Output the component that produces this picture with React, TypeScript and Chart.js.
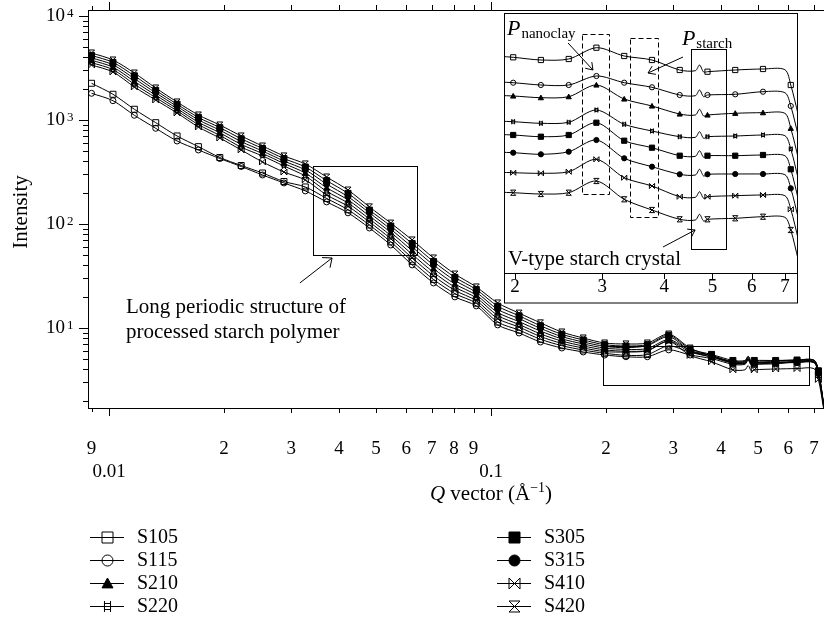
import React, { useEffect, useRef } from "react";
import { Chart, registerables } from "chart.js";

Chart.register(...registerables);

const SERIF = '"Liberation Serif", "Times New Roman", Times, serif';

// Q grid (Å^-1): marker positions plus a few line-only points
const Q = [0.009, 0.01024, 0.01165, 0.01325, 0.01507, 0.01714, 0.0195, 0.02218, 0.02522, 0.0287,
  0.03264, 0.03713, 0.04223, 0.04804, 0.05464, 0.06216, 0.0707, 0.08042, 0.0915, 0.1041,
  0.1184, 0.1347, 0.1532, 0.1743, 0.1983, 0.2255, 0.2566, 0.2918, 0.332, 0.3777,
  0.4296, 0.462, 0.471, 0.48, 0.4887, 0.5559, 0.6324, 0.7, 0.7194, 0.745];
const LINE_ONLY_Q = [0.462, 0.471, 0.48, 0.7, 0.745];

const SERIES = ["S105", "S115", "S210", "S220", "S305", "S315", "S410", "S420"];
const MARKERS = ["square", "circle", "triangle", "hash", "fsquare", "fcircle", "bowtie", "hourglass"];

// main plot intensities
const S105 = [2254, 1767, 1268, 942, 702, 554, 436, 365, 309, 256, 227, 176, 137, 97.8, 67.3, 43.7, 29.3, 21.4, 17.3, 11.4, 9.54, 7.79, 6.76, 6.14, 5.71, 5.46, 5.55, 6.73, 5.84, 5.46, 4.61, 4.56, 5.01, 4.46, 4.49, 4.61, 4.69, 4.69, 3.58, 1.65];
const S115 = [1806, 1533, 1110, 832, 628, 515, 426, 357, 296, 248, 208, 163, 128, 91.5, 62.8, 40.4, 27.1, 19.9, 16.3, 10.7, 8.95, 7.33, 6.42, 5.88, 5.5, 5.29, 5.29, 6.16, 5.5, 5.08, 4.47, 4.47, 4.91, 4.37, 4.47, 4.52, 4.72, 4.72, 3.71, 1.7];
const S210 = [3760, 3219, 2351, 1732, 1287, 952, 753, 583, 476, 382, 309, 223, 170.5, 119.4, 83.0, 55.4, 37.2, 26.5, 20.7, 14.1, 11.5, 9.34, 7.86, 7.02, 6.41, 6.23, 6.34, 7.72, 6.09, 5.42, 4.73, 4.69, 5.2, 4.63, 4.65, 4.78, 4.84, 4.84, 3.72, 1.7];
const S220 = [3560, 3052, 2209, 1642, 1226, 903, 711, 548, 451, 361, 289, 206, 159, 111.7, 77.4, 51.1, 34.3, 24.7, 19.5, 13.2, 10.8, 8.78, 7.48, 6.71, 6.16, 5.98, 6.09, 7.5, 5.89, 5.26, 4.78, 4.78, 5.26, 4.68, 4.78, 4.84, 4.91, 4.91, 3.89, 1.7];
const S305 = [4180, 3580, 2661, 1925, 1419, 1059, 845, 660, 532, 426, 353, 261, 197, 136, 95.4, 64.8, 43.5, 30.7, 23.4, 16.2, 13.1, 10.5, 8.7, 7.67, 6.91, 6.71, 6.91, 8.51, 6.28, 5.57, 4.87, 4.87, 5.36, 4.76, 4.87, 4.87, 4.92, 4.92, 3.87, 1.65];
const S315 = [3960, 3395, 2501, 1826, 1351, 1004, 798, 620, 503, 403, 331, 242, 183, 128, 88.9, 60.0, 40.3, 28.6, 22.0, 15.1, 12.3, 9.91, 8.27, 7.33, 6.66, 6.47, 6.77, 8.25, 6.05, 5.25, 4.62, 4.62, 5.08, 4.52, 4.62, 4.64, 4.64, 4.64, 3.64, 1.6];
const S410 = [3380, 2894, 2077, 1557, 1168, 856, 671, 515, 395, 316, 265, 190, 148, 104.5, 72.2, 47.2, 31.7, 23.0, 18.3, 12.3, 10.2, 8.27, 7.11, 6.42, 5.93, 5.87, 6.04, 7.43, 5.45, 4.73, 3.96, 3.96, 4.35, 3.87, 3.96, 4.03, 4.07, 4.07, 3.2, 1.55];
const S420 = [4410, 3775, 2830, 2031, 1490, 1117, 895, 702, 562, 451, 378, 283, 212, 146, 102, 70.2, 47.1, 33.0, 24.8, 17.4, 13.9, 11.2, 9.15, 8.01, 7.17, 7.02, 7.17, 8.74, 6.41, 5.36, 4.58, 4.58, 5.03, 4.48, 4.58, 4.65, 4.78, 4.78, 3.83, 1.6];
const MAIN_VALUES = [S105, S115, S210, S220, S305, S315, S410, S420];

// inset: vertically offset curves (arbitrary units) for Q >= 0.1743
const INSET_Q = Q.slice(23);
const IN_S105 = [217.7, 215.7, 213.0, 214.0, 225.3, 217.0, 213.0, 203.0, 202.3, 208.0, 201.0, 201.3, 203.0, 204.0, 203.3, 188.0, 158.0];
const IN_S115 = [191.7, 190.3, 188.0, 188.0, 197.0, 190.3, 185.7, 178.0, 177.3, 183.0, 176.3, 178.0, 178.7, 181.3, 180.3, 167.0, 137.0];
const IN_S210 = [178.0, 177.0, 175.3, 176.3, 188.0, 174.0, 167.0, 159.0, 158.0, 163.7, 157.0, 158.0, 159.7, 160.3, 159.7, 144.7, 114.7];
const IN_S220 = [152.3, 151.3, 149.7, 150.7, 163.0, 148.7, 142.0, 136.3, 135.7, 141.3, 134.7, 136.3, 137.0, 138.0, 137.3, 124.0, 94.0];
const IN_S305 = [139.0, 138.0, 136.3, 138.0, 150.3, 132.3, 125.3, 117.3, 116.7, 122.3, 115.7, 117.3, 117.3, 118.0, 117.3, 103.7, 73.7];
const IN_S315 = [121.3, 120.3, 118.7, 121.3, 133.0, 114.7, 106.3, 98.7, 98.0, 103.7, 97.0, 98.7, 99.0, 99.0, 98.3, 84.7, 54.7];
const IN_S410 = [101.3, 100.3, 99.7, 101.3, 113.7, 95.3, 87.0, 76.3, 75.7, 81.3, 74.7, 76.3, 77.3, 78.0, 77.3, 63.7, 33.7];
const IN_S420 = [81.3, 80.3, 79.0, 80.3, 92.0, 73.7, 63.0, 53.7, 53.0, 58.7, 52.0, 53.7, 54.7, 56.3, 55.7, 43.0, 13.0];
const INSET_VALUES = [IN_S105, IN_S115, IN_S210, IN_S220, IN_S305, IN_S315, IN_S410, IN_S420];

const X_TICKS = [0.009, 0.01, 0.02, 0.03, 0.04, 0.05, 0.06, 0.07, 0.08, 0.09, 0.1, 0.2, 0.3, 0.4, 0.5, 0.6, 0.7];
const X_LONG_TICKS = [0.01, 0.1];
const X_SHORT_TICKS = [0.009];
const Y_EXPONENTS = [1, 2, 3, 4];
const INSET_TICKS = [0.2, 0.3, 0.4, 0.5, 0.6, 0.7];

const X_MIN = 0.00881, X_MAX = 0.744, Y_MIN = 1.7, Y_MAX = 11420;
const IX_MIN = 0.1909, IX_MAX = 0.7405, IY_MIN = 0, IY_MAX = 259;

function drawMarker(ctx: CanvasRenderingContext2D, kind: string, x: number, y: number, s: number) {
  ctx.save();
  ctx.strokeStyle = "#000";
  ctx.fillStyle = "#000";
  ctx.lineWidth = 1;
  ctx.beginPath();
  switch (kind) {
    case "square":
      ctx.rect(x - s, y - s, 2 * s, 2 * s); ctx.stroke(); break;
    case "circle":
      ctx.arc(x, y, s, 0, Math.PI * 2); ctx.stroke(); break;
    case "triangle":
      ctx.moveTo(x, y - s); ctx.lineTo(x + s, y + s * 0.8); ctx.lineTo(x - s, y + s * 0.8); ctx.closePath();
      ctx.fill(); ctx.stroke(); break;
    case "hash": {
      const h = s * 0.55;
      ctx.rect(x - h, y - h, 2 * h, 2 * h);
      ctx.moveTo(x - h, y - s); ctx.lineTo(x - h, y + s);
      ctx.moveTo(x + h, y - s); ctx.lineTo(x + h, y + s);
      ctx.stroke(); break;
    }
    case "fsquare":
      ctx.rect(x - s, y - s, 2 * s, 2 * s); ctx.fill(); ctx.stroke(); break;
    case "fcircle":
      ctx.arc(x, y, s, 0, Math.PI * 2); ctx.fill(); ctx.stroke(); break;
    case "bowtie":
      ctx.moveTo(x - s, y - s); ctx.lineTo(x - s, y + s); ctx.lineTo(x + s, y - s); ctx.lineTo(x + s, y + s); ctx.closePath();
      ctx.stroke(); break;
    case "hourglass":
      ctx.moveTo(x - s, y - s); ctx.lineTo(x + s, y - s); ctx.lineTo(x - s, y + s); ctx.lineTo(x + s, y + s); ctx.closePath();
      ctx.stroke(); break;
  }
  ctx.restore();
}

function line(ctx: CanvasRenderingContext2D, x1: number, y1: number, x2: number, y2: number) {
  ctx.beginPath(); ctx.moveTo(x1, y1); ctx.lineTo(x2, y2); ctx.stroke();
}

function arrow(ctx: CanvasRenderingContext2D, x1: number, y1: number, x2: number, y2: number, len = 10, ang = 0.62) {
  line(ctx, x1, y1, x2, y2);
  const t = Math.atan2(y2 - y1, x2 - x1);
  ctx.beginPath();
  ctx.moveTo(x2 - len * Math.cos(t - ang), y2 - len * Math.sin(t - ang));
  ctx.lineTo(x2, y2);
  ctx.lineTo(x2 - len * Math.cos(t + ang), y2 - len * Math.sin(t + ang));
  ctx.stroke();
}

const px = (v: number) => Math.round(v) + 0.5;

function markerPlugin(size: number) {
  return {
    id: "markers",
    afterDatasetsDraw(chart: any) {
      const { ctx, chartArea: a } = chart;
      ctx.save();
      ctx.beginPath();
      ctx.rect(a.left - 1, a.top - 1, a.right - a.left + 2, a.bottom - a.top + 2);
      ctx.clip();
      chart.data.datasets.forEach((ds: any, i: number) => {
        const meta = chart.getDatasetMeta(i);
        meta.data.forEach((pt: any, j: number) => {
          const q = ds.data[j].x;
          if (LINE_ONLY_Q.includes(q)) return;
          if (pt.x < a.left - 2 || pt.x > a.right + 2 || pt.y < a.top - 2 || pt.y > a.bottom + 2) return;
          drawMarker(ctx, MARKERS[i], pt.x, pt.y, size);
        });
      });
      ctx.restore();
    },
  };
}

const whiteBg = {
  id: "whiteBg",
  beforeDraw(chart: any) {
    const { ctx, width, height } = chart;
    ctx.save(); ctx.fillStyle = "#fff"; ctx.fillRect(0, 0, width, height); ctx.restore();
  },
};

const mainDeco = {
  id: "mainDeco",
  afterDraw(chart: any) {
    const { ctx, chartArea: a } = chart;
    const xs = chart.scales.x, ys = chart.scales.y;
    ctx.save();
    ctx.strokeStyle = "#000";
    ctx.fillStyle = "#000";
    ctx.lineWidth = 1;
    // top frame line
    line(ctx, a.left, px(a.top), a.right, px(a.top));
    // x ticks (bottom + top)
    X_TICKS.forEach((v) => {
      const x = px(xs.getPixelForValue(v));
      const len = X_LONG_TICKS.includes(v) ? 8 : X_SHORT_TICKS.includes(v) ? 4 : 5;
      line(ctx, x, a.bottom, x, a.bottom + len);
      line(ctx, x, a.top, x, a.top - len);
    });
    // y ticks
    for (let e = 0; e <= 4; e++) {
      for (let m = 1; m <= 9; m++) {
        const v = m * Math.pow(10, e);
        if (v < Y_MIN || v > Y_MAX) continue;
        const y = px(ys.getPixelForValue(v));
        line(ctx, a.left - (m === 1 ? 9 : 5), y, a.left, y);
      }
    }
    // y labels 10^n
    Y_EXPONENTS.forEach((e) => {
      const y = ys.getPixelForValue(Math.pow(10, e));
      ctx.font = `19px ${SERIF}`;
      ctx.textAlign = "right";
      ctx.textBaseline = "middle";
      ctx.fillText("10", 65, y);
      ctx.font = `13px ${SERIF}`;
      ctx.textAlign = "left";
      ctx.textBaseline = "alphabetic";
      ctx.fillText(String(e), 67, y + 1);
    });
    // y title
    ctx.save();
    ctx.translate(21, 212);
    ctx.rotate(-Math.PI / 2);
    ctx.font = `21px ${SERIF}`;
    ctx.textAlign = "center";
    ctx.textBaseline = "middle";
    ctx.fillText("Intensity", 0, 0);
    ctx.restore();
    // x title: Q vector (Å^-1)
    {
      const parts = [
        { t: "Q", f: `italic 21px ${SERIF}`, dy: 0 },
        { t: " vector (Å", f: `21px ${SERIF}`, dy: 0 },
        { t: "−1", f: `14px ${SERIF}`, dy: -8 },
        { t: ")", f: `21px ${SERIF}`, dy: 0 },
      ];
      let total = 0;
      parts.forEach((p) => { ctx.font = p.f; total += ctx.measureText(p.t).width; });
      let x = 491 - total / 2;
      const base = 500;
      ctx.textAlign = "left";
      ctx.textBaseline = "alphabetic";
      parts.forEach((p) => { ctx.font = p.f; ctx.fillText(p.t, x, base + p.dy); x += ctx.measureText(p.t).width; });
    }
    // annotation: long periodic structure box
    const X = (v: number) => xs.getPixelForValue(v);
    const Y = (v: number) => ys.getPixelForValue(v);
    ctx.strokeRect(px(X(0.0342)), px(Y(361)), Math.round(X(0.064) - X(0.0342)), Math.round(Y(50.4) - Y(361)));
    ctx.strokeRect(px(X(0.1964)), px(Y(6.71)), Math.round(X(0.68) - X(0.1964)), Math.round(Y(2.83) - Y(6.71)));
    arrow(ctx, X(0.0316), Y(27.1), X(0.03836), Y(47.1), 10, 0.7);
    ctx.font = `21px ${SERIF}`;
    ctx.textAlign = "left";
    ctx.textBaseline = "alphabetic";
    ctx.fillText("Long periodic structure of", X(0.01108), Y(13.9));
    ctx.fillText("processed starch polymer", X(0.01108), Y(8.01));
    // legend (two columns)
    SERIES.forEach((name, i) => {
      const col = Math.floor(i / 4), row = i % 4;
      const lx = col === 0 ? 90 : 497;
      const y = 537 + row * 23;
      line(ctx, lx, px(y), lx + 34, px(y));
      drawMarker(ctx, MARKERS[i], lx + 17.5, y + 0.5, 5.5);
      ctx.font = `20px ${SERIF}`;
      ctx.textBaseline = "middle";
      ctx.fillText(name, lx + 47, y + 1);
    });
    ctx.restore();
  },
};

const insetDeco = {
  id: "insetDeco",
  afterDraw(chart: any) {
    const { ctx, chartArea: a, height } = chart;
    const xs = chart.scales.x, ys = chart.scales.y;
    const X = (v: number) => xs.getPixelForValue(v);
    const Y = (v: number) => ys.getPixelForValue(v);
    ctx.save();
    ctx.strokeStyle = "#000";
    ctx.fillStyle = "#000";
    ctx.lineWidth = 1;
    ctx.strokeRect(0.5, 0.5, a.right, height - 1.5);
    INSET_TICKS.forEach((v) => {
      const x = px(X(v));
      line(ctx, x, a.bottom, x, a.bottom + 6);
    });
    // dashed boxes
    ctx.setLineDash([5, 3]);
    ctx.strokeRect(px(X(0.273)), px(Y(239)), Math.round(X(0.309) - X(0.273)), Math.round(Y(79) - Y(239)));
    ctx.strokeRect(px(X(0.341)), px(Y(235)), Math.round(X(0.388) - X(0.341)), Math.round(Y(56) - Y(235)));
    ctx.setLineDash([]);
    ctx.strokeRect(px(X(0.452)), px(Y(224)), Math.round(X(0.532) - X(0.452)), Math.round(Y(24) - Y(224)));
    // arrows
    arrow(ctx, X(0.2558), Y(230), X(0.2872), Y(203), 8, 0.6);
    arrow(ctx, X(0.4362), Y(216), X(0.3708), Y(200), 8, 0.6);
    arrow(ctx, X(0.3976), Y(26), X(0.4614), Y(43), 8, 0.6);
    // labels
    ctx.textAlign = "left";
    ctx.textBaseline = "alphabetic";
    const sub = (x: number, y: number, s: string) => {
      ctx.font = `italic 22px ${SERIF}`;
      ctx.fillText("P", x, y);
      const w = ctx.measureText("P").width;
      ctx.font = `15px ${SERIF}`;
      ctx.fillText(s, x + w + 1, y + 3);
    };
    sub(X(0.1927), Y(238), "nanoclay");
    sub(X(0.434), Y(228), "starch");
    ctx.font = `21px ${SERIF}`;
    ctx.fillText("V-type starch crystal", X(0.1936), Y(8));
    ctx.restore();
  },
};

function xLabel(v: number): string | string[] {
  const e = Math.floor(Math.log10(v) + 1e-9);
  const m = Math.round(v / Math.pow(10, e));
  if (m === 1) return ["", e === -2 ? "0.01" : "0.1"];
  return String(m);
}

export default function App() {
  const mainRef = useRef<HTMLCanvasElement>(null);
  const insetRef = useRef<HTMLCanvasElement>(null);

  useEffect(() => {
    document.body.style.margin = "0";
    const main = new Chart(mainRef.current as HTMLCanvasElement, {
      type: "line",
      data: {
        datasets: SERIES.map((name, i) => ({
          label: name,
          data: Q.map((q, j) => ({ x: q, y: MAIN_VALUES[i][j] })),
          borderColor: "#000",
          borderWidth: 1,
          pointRadius: 0,
          tension: 0.3,
          fill: false,
        })),
      },
      options: {
        responsive: false,
        animation: false,
        devicePixelRatio: 1,
        events: [],
        layout: { padding: { top: 10, left: 0, right: 0, bottom: 0 } },
        plugins: { legend: { display: false }, tooltip: { enabled: false } },
        scales: {
          x: {
            type: "logarithmic",
            min: X_MIN,
            max: X_MAX,
            bounds: "data",
            afterBuildTicks: (s: any) => { s.ticks = X_TICKS.map((v) => ({ value: v })); },
            afterFit: (s: any) => { s.height = 228; s.paddingLeft = 0; s.paddingRight = 0; },
            grid: { display: false, drawTicks: false },
            border: { display: true, color: "#000", width: 1 },
            ticks: {
              autoSkip: false, maxRotation: 0, minRotation: 0, padding: 30, color: "#000",
              font: { family: SERIF, size: 19 },
              callback: (v: any) => xLabel(Number(v)),
            },
          },
          y: {
            type: "logarithmic",
            min: Y_MIN,
            max: Y_MAX,
            bounds: "data",
            afterFit: (s: any) => { s.width = 88; s.paddingTop = 0; s.paddingBottom = 0; },
            grid: { display: false, drawTicks: false },
            border: { display: true, color: "#000", width: 1 },
            ticks: { display: false },
          },
        },
      } as any,
      plugins: [whiteBg, markerPlugin(3), mainDeco],
    });

    const inset = new Chart(insetRef.current as HTMLCanvasElement, {
      type: "line",
      data: {
        datasets: SERIES.map((name, i) => ({
          label: name,
          data: INSET_Q.map((q, j) => ({ x: q, y: INSET_VALUES[i][j] })),
          borderColor: "#000",
          borderWidth: 1,
          pointRadius: 0,
          tension: 0.3,
          fill: false,
        })),
      },
      options: {
        responsive: false,
        animation: false,
        devicePixelRatio: 1,
        events: [],
        layout: { padding: { top: 1, left: 1, right: 2, bottom: 0 } },
        plugins: { legend: { display: false }, tooltip: { enabled: false } },
        scales: {
          x: {
            type: "logarithmic",
            min: IX_MIN,
            max: IX_MAX,
            bounds: "data",
            afterBuildTicks: (s: any) => { s.ticks = INSET_TICKS.map((v) => ({ value: v })); },
            afterFit: (s: any) => { s.height = 31; s.paddingLeft = 0; s.paddingRight = 0; },
            grid: { display: false, drawTicks: false },
            border: { display: true, color: "#000", width: 1 },
            ticks: {
              autoSkip: false, maxRotation: 0, minRotation: 0, padding: 5, color: "#000",
              font: { family: SERIF, size: 19, lineHeight: 1 },
              callback: (v: any) => String(Math.round(Number(v) * 10)),
            },
          },
          y: { type: "linear", display: false, min: IY_MIN, max: IY_MAX },
        },
      } as any,
      plugins: [whiteBg, markerPlugin(2.6), insetDeco],
    });

    return () => { main.destroy(); inset.destroy(); };
  }, []);

  return (
    <div style={{ position: "fixed", left: 0, top: 0, width: 824, height: 636, background: "#fff" }}>
      <canvas ref={mainRef} width={824} height={636} style={{ position: "absolute", left: 0, top: 0, width: 824, height: 636 }} />
      <canvas ref={insetRef} width={295} height={291} style={{ position: "absolute", left: 504, top: 13, width: 295, height: 291 }} />
    </div>
  );
}
